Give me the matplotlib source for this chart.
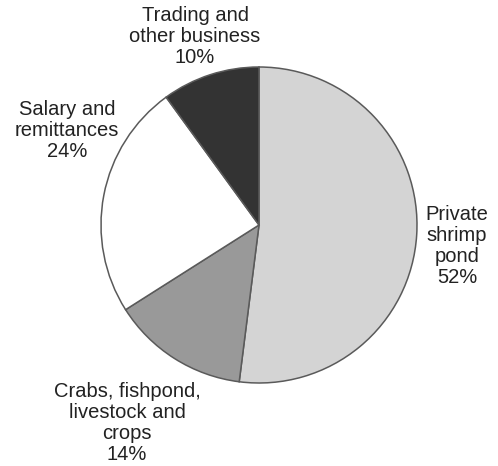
import matplotlib
matplotlib.use("Agg")
import matplotlib.pyplot as plt

# Income sources (share of households, %)
labels = ["Private\nshrimp\npond", "Crabs, fishpond,\nlivestock and\ncrops",
          "Salary and\nremittances", "Trading and\nother business"]
shares = [52, 14, 24, 10]
colors = ["#d4d4d4", "#999999", "#ffffff", "#333333"]

# label anchors in pixels: centre x, baseline of the last line (from top)
label_pos = [(457, 283), (127, 460), (67, 157), (195, 63)]

W, H = 498, 466
fig = plt.figure(figsize=(W / 100, H / 100), dpi=100)
ax = fig.add_axes([0, 0, 1, 1])

ax.pie(shares, colors=colors, startangle=90, counterclock=False,
       center=(259, H - 225), radius=158,
       wedgeprops={"edgecolor": "#5a5a5a", "linewidth": 1.1})

# pie() resets the limits, so fix them afterwards
ax.set_xlim(0, W)
ax.set_ylim(0, H)
ax.set_aspect("equal")
ax.axis("off")

for lab, val, (x, y) in zip(labels, shares, label_pos):
    ax.text(x, H - y, f"{lab}\n{val}%", ha="center", va="baseline",
            fontsize=14.5, family="Liberation Sans", color="#222222",
            linespacing=1.13)

fig.savefig("out.png", dpi=100, facecolor="white")
